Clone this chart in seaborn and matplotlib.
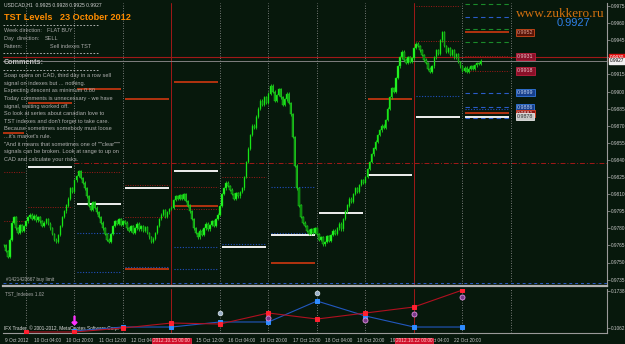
import numpy as np
import matplotlib
matplotlib.use("Agg")
import matplotlib.pyplot as plt
import seaborn as sns

# ---------------- data ----------------
trading_days = ["9 Oct", "10 Oct", "11 Oct", "12 Oct", "15 Oct", "16 Oct",
                "17 Oct", "18 Oct", "19 Oct", "22 Oct", "23 Oct"]
first_hour = 13          # first H1 bar on chart: 9 Oct 13:00
week_start_days = ["15 Oct", "22 Oct"]

close_09 = [0.9765, 0.9760, 0.9755, 0.9770, 0.9785, 0.9790, 0.9780, 0.9776, 0.9783, 0.9778, 0.9782]
close_10 = [0.9786, 0.9790, 0.9792, 0.9788, 0.9791, 0.9787, 0.9790, 0.9786, 0.9782, 0.9785, 0.9788, 0.9784,
            0.9780, 0.9775, 0.9770, 0.9768, 0.9774, 0.9782, 0.9790, 0.9795, 0.9800, 0.9806, 0.9815, 0.9812]
close_11 = [0.9822, 0.9826, 0.9830, 0.9824, 0.9820, 0.9815, 0.9808, 0.9800, 0.9796, 0.9803, 0.9798, 0.9794,
            0.9790, 0.9785, 0.9780, 0.9775, 0.9770, 0.9768, 0.9775, 0.9782, 0.9786, 0.9784, 0.9788, 0.9783]
close_12 = [0.9786, 0.9785, 0.9780, 0.9778, 0.9782, 0.9776, 0.9780, 0.9784, 0.9779, 0.9782, 0.9778, 0.9781,
            0.9776, 0.9772, 0.9768, 0.9771, 0.9776, 0.9782, 0.9788, 0.9792, 0.9796, 0.9790, 0.9794, 0.9797]
close_15 = [0.9798, 0.9805, 0.9808, 0.9806, 0.9809, 0.9806, 0.9810, 0.9804, 0.9800, 0.9795, 0.9788, 0.9780,
            0.9776, 0.9772, 0.9778, 0.9774, 0.9780, 0.9784, 0.9779, 0.9783, 0.9786, 0.9782, 0.9788, 0.9792]
close_16 = [0.9800, 0.9810, 0.9815, 0.9820, 0.9817, 0.9814, 0.9810, 0.9806, 0.9811, 0.9808, 0.9812, 0.9815,
            0.9825, 0.9838, 0.9850, 0.9862, 0.9870, 0.9868, 0.9878, 0.9885, 0.9892, 0.9888, 0.9895, 0.9890]
close_17 = [0.9898, 0.9905, 0.9900, 0.9892, 0.9897, 0.9902, 0.9895, 0.9888, 0.9893, 0.9898, 0.9890, 0.9880,
            0.9860, 0.9835, 0.9815, 0.9800, 0.9790, 0.9785, 0.9782, 0.9778, 0.9775, 0.9779, 0.9776, 0.9780]
close_18 = [0.9775, 0.9770, 0.9772, 0.9766, 0.9768, 0.9773, 0.9769, 0.9774, 0.9778, 0.9775, 0.9780, 0.9784,
            0.9779, 0.9788, 0.9795, 0.9800, 0.9806, 0.9803, 0.9810, 0.9815, 0.9812, 0.9818, 0.9822, 0.9820]
close_19 = [0.9825, 0.9832, 0.9838, 0.9845, 0.9850, 0.9856, 0.9862, 0.9866, 0.9870, 0.9868, 0.9875, 0.9885,
            0.9895, 0.9903, 0.9900, 0.9912, 0.9922, 0.9930, 0.9935, 0.9928, 0.9925, 0.9930, 0.9926, 0.9929]
close_22 = [0.9938, 0.9942, 0.9940, 0.9936, 0.9932, 0.9928, 0.9925, 0.9920, 0.9917, 0.9922, 0.9930, 0.9936,
            0.9933, 0.9945, 0.9952, 0.9940, 0.9935, 0.9938, 0.9932, 0.9936, 0.9930, 0.9933, 0.9926, 0.9922]
close_23 = [0.9918, 0.9921, 0.9917, 0.9920, 0.9922, 0.9920, 0.9923, 0.9925, 0.9924, 0.9927]
closes_by_day = [close_09, close_10, close_11, close_12, close_15, close_16,
                 close_17, close_18, close_19, close_22, close_23]

bid_price = 0.9927
ask_price = 0.9930
pending_order_price = 0.9732
pending_order_text = "#1421420667 buy limit"
long_dashdot_level = ("11 Oct", 0.9837)

# TST levels per day
white_lvls = [("10 Oct", 0.9834), ("11 Oct", 0.9801), ("12 Oct", 0.9815), ("15 Oct", 0.9830),
              ("16 Oct", 0.9764), ("17 Oct", 0.9774), ("18 Oct", 0.9793), ("19 Oct", 0.9827),
              ("22 Oct", 0.9878), ("23 Oct", 0.9878)]
red_solid_lvls = [("9 Oct", 0.9864), ("10 Oct", 0.9890), ("11 Oct", 0.9902), ("12 Oct", 0.9893),
                  ("12 Oct", 0.9744), ("15 Oct", 0.9908), ("15 Oct", 0.9800), ("17 Oct", 0.9750),
                  ("19 Oct", 0.9893), ("23 Oct", 0.9952), ("23 Oct", 0.9881)]
red_dot_lvls = [("9 Oct", 0.9829), ("9 Oct", 0.9786), ("10 Oct", 0.9799), ("11 Oct", 0.9829),
                ("12 Oct", 0.9818), ("12 Oct", 0.9790), ("15 Oct", 0.9816), ("15 Oct", 0.9797),
                ("16 Oct", 0.9825), ("22 Oct", 0.9975), ("22 Oct", 0.9944), ("23 Oct", 0.9931),
                ("23 Oct", 0.9918)]
blue_dot_lvls = [("11 Oct", 0.9776), ("11 Oct", 0.9742), ("12 Oct", 0.9746), ("15 Oct", 0.9764),
                 ("15 Oct", 0.9744), ("16 Oct", 0.9766), ("17 Oct", 0.9816), ("17 Oct", 0.9776),
                 ("22 Oct", 0.9896), ("23 Oct", 0.9885)]
blue_dash_lvls = [("23 Oct", 0.9965), ("23 Oct", 0.9899), ("23 Oct", 0.9886), ("23 Oct", 0.9877)]
green_dash_lvls = [("23 Oct", 0.9977), ("23 Oct", 0.9955), ("23 Oct", 0.9943)]

# TST_Indexes indicator, one value per day start
ind_red_days = ["10 Oct", "11 Oct", "12 Oct", "15 Oct", "16 Oct", "17 Oct", "18 Oct", "19 Oct", "22 Oct", "23 Oct"]
ind_red_vals = [0.0989, 0.0989, 0.1062, 0.1153, 0.1135, 0.1336, 0.1226, 0.1336, 0.1446, 0.1756]
ind_blue_days = ["11 Oct", "12 Oct", "15 Oct", "16 Oct", "17 Oct", "18 Oct", "19 Oct", "22 Oct", "23 Oct"]
ind_blue_vals = [0.1007, 0.1080, 0.1080, 0.1172, 0.1172, 0.1555, 0.1281, 0.1080, 0.1080]
ind_arrow = [("11 Oct", 0.1208)]
ind_circles = [("17 Oct", 0.1245), ("19 Oct", 0.1208), ("22 Oct", 0.1318), ("23 Oct", 0.1628)]
ind_icons = [("16 Oct", 0.1336), ("18 Oct", 0.1701)]
ind_ticks = [0.1738, 0.1062]

main_ticks = [0.9735, 0.9750, 0.9765, 0.9780, 0.9795, 0.9810, 0.9825, 0.9840, 0.9855,
              0.9870, 0.9885, 0.9900, 0.9915, 0.9930, 0.9945, 0.9960, 0.9975]

xlabel_day = ["10 Oct", "10 Oct", "11 Oct", "12 Oct", "12 Oct", "15 Oct", "16 Oct", "16 Oct",
              "17 Oct", "18 Oct", "18 Oct", "19 Oct", "22 Oct", "22 Oct"]
xlabel_hour = [4, 20, 12, 4, 20, 12, 4, 20, 12, 4, 20, 12, 4, 20]
first_label = "9 Oct 2012"
week_marker_text = ["2012.10.15 00:00", "2012.10.22 00:00"]

header = "USDCAD,H1  0.9925 0.9928 0.9925 0.9927"
title = "TST Levels   23 October 2012"
info_keys = ["Week direction:", "Day  direction:", "Pattern:"]
info_vals = ["FLAT BUY", "SELL", "Sell indexes TST"]
comments = ["Soap opera on CAD, third day in a row sell",
            "signal on indexes but ... nothing.",
            "Expecting descent as minimum 0.80",
            "Today comments is unnecessary - we have",
            "signal, waiting worked off.",
            "So look at series about canadian love to",
            "TST indexes and don't forget to take care.",
            "Because sometimes somebody must loose",
            "...it's market's rule.",
            "\"And it means that sometimes one of \"\"clear\"\"\"",
            "signals can be broken. Look at range to up on",
            "CAD and calculate your risks."]

# ---------------- derived positions ----------------
day_start = {d: i * 24 - first_hour for i, d in enumerate(trading_days)}
closes = np.array([c for day in closes_by_day for c in day])
pos = np.arange(len(closes))
opens = np.r_[closes[0], closes[:-1]]

# ---------------- style ----------------
BG = "#07180c"
sns.set_style("dark", {"axes.facecolor": BG, "figure.facecolor": BG})
plt.rcParams["font.family"] = ["Liberation Sans", "DejaVu Sans"]
TXT = "#c8c8c8"
SMALL = 3.4

W, H = 625, 344
fig = plt.figure(figsize=(W / 100, H / 100), dpi=100)
fig.patch.set_facecolor(BG)

def fx(px):
    return px / W

def fy(py):
    return 1 - py / H

ax = fig.add_axes([fx(3), fy(286), fx(607) - fx(3), fy(3) - fy(286)])
axi = fig.add_axes([fx(3), fy(333), fx(607) - fx(3), fy(289) - fy(333)])

PX = 48.5 / 24.0
x_left = day_start["10 Oct"] - (26 - 3) / PX
x_right = day_start["10 Oct"] + (607 - 26) / PX
price_per_px = 0.0015 / 17.1
y_top = 0.9975 + 3 * price_per_px
y_bot = 0.9975 - 280 * price_per_px

for a in (ax, axi):
    a.set_facecolor(BG)
    a.set_xlim(x_left, x_right)
    for s in a.spines.values():
        s.set_color("#9a9a9a")
        s.set_linewidth(0.8)
    a.spines["left"].set_visible(False)
    a.spines["top"].set_visible(False)
    a.grid(False)
    for d in trading_days[1:] + ["24 Oct"]:
        xs = day_start[d] if d in day_start else day_start["23 Oct"] + 24
        if d in week_start_days:
            a.axvline(xs, color="#a01818", lw=0.7, zorder=1)
        else:
            a.axvline(xs, color="#9a9a9a", lw=0.6, ls=(0, (1, 2)), zorder=1)

ax.set_ylim(y_bot, y_top)
ax.spines["bottom"].set_color("#b0b0b0")
ax.spines["bottom"].set_linewidth(1.6)

def draw_lvls(lvls, color, ls, lw):
    for d, v in lvls:
        s = day_start[d]
        ax.hlines(v, s + 1.2, s + 23.0, colors=color, linestyles=ls, lw=lw, zorder=2)

draw_lvls(red_dot_lvls, "#a01818", (0, (1, 1.5)), 0.7)
draw_lvls(blue_dot_lvls, "#2050c0", (0, (1, 1.5)), 0.8)
draw_lvls(blue_dash_lvls, "#2a5cc8", (0, (4, 3)), 0.8)
draw_lvls(green_dash_lvls, "#1a8a2a", (0, (4, 3)), 0.8)
draw_lvls(red_solid_lvls, "#e03a10", "-", 1.1)
draw_lvls(white_lvls, "#f0f0f0", "-", 1.4)

ax.hlines(long_dashdot_level[1], day_start[long_dashdot_level[0]], x_right,
          colors="#a01818", linestyles=(0, (5, 2, 1, 2)), lw=0.7, zorder=2)
ax.axhline(ask_price, color="#a01818", lw=0.8, zorder=2)
ax.axhline(bid_price, color="#808080", lw=0.7, zorder=2)
ax.axhline(pending_order_price, color="#2a5cc8", lw=0.7, ls=(0, (3, 3)), zorder=2)
ax.text(1, pending_order_price + 4 * price_per_px, pending_order_text, color="#b0b0b0",
        fontsize=SMALL, va="center", ha="left")

# candles
wick = 1.3 * price_per_px
lo = np.minimum(opens, closes)
hi = np.maximum(opens, closes)
bull = closes >= opens
ax.vlines(pos, lo - wick, hi + wick, colors="#1fd01f", lw=0.6, zorder=3)
body = np.maximum(hi - lo, 0.4 * price_per_px)
ax.bar(pos[bull], body[bull], bottom=lo[bull], width=0.7, color="#2cff2c",
       edgecolor="#00c000", lw=0.3, zorder=4)
ax.bar(pos[~bull], body[~bull], bottom=lo[~bull], width=0.7, color="#0a7a0a",
       edgecolor="#22e022", lw=0.3, zorder=4)

# right axis
ax.yaxis.tick_right()
ax.set_yticks(main_ticks)
ax.set_yticklabels([f"{t:.4f}" for t in main_ticks])
ax.tick_params(axis="y", colors="#a0a0a0", labelcolor=TXT, labelsize=SMALL, length=2, pad=1.0, width=0.5)
ax.set_xticks([])

ax.text(1.005, ask_price, f"{ask_price:.4f}", transform=ax.get_yaxis_transform(), fontsize=SMALL,
        color="white", va="center", ha="left", zorder=10,
        bbox=dict(boxstyle="square,pad=0.15", fc="#e01010", ec="#e01010"))
ax.text(1.005, bid_price, f"{bid_price:.4f}", transform=ax.get_yaxis_transform(), fontsize=SMALL,
        color="black", va="center", ha="left", zorder=11,
        bbox=dict(boxstyle="square,pad=0.15", fc="#f0f0f0", ec="#f0f0f0"))

label_x = day_start["23 Oct"] + 27
def lvl_labels(lvls, fc, ec, tc):
    for d, v in lvls:
        if d == "23 Oct":
            ax.text(label_x, v, f"{v:.4f}", fontsize=3.8, color=tc, va="center", ha="left", zorder=9,
                    bbox=dict(boxstyle="square,pad=0.2", fc=fc, ec=ec, lw=0.6))
lvl_labels([l for l in red_solid_lvls if l[1] > 0.99], "#5a1408", "#d04a1a", "#e0a090")
lvl_labels(red_dot_lvls, "#8a1028", "#c02040", "#e8c0c8")
lvl_labels(blue_dash_lvls[1:3], "#173f8c", "#3478e0", "#c0d4f4")
lvl_labels([l for l in red_solid_lvls if l[0] == "23 Oct" and l[1] < 0.99], "#8a1818", "#e04020", "#f0d0d0")
lvl_labels(white_lvls, "#c8c8c8", "#e8e8e8", "#303030")

fig.text(fx(4), fy(5), header, color="#d0d0d0", fontsize=3.6, va="center")
fig.text(fx(4), fy(17), title, color="#ff8c00", fontsize=6.6, fontweight="bold", va="center")
for yy in (25, 53, 70):
    fig.add_artist(plt.Line2D([fx(3), fx(98)], [fy(yy), fy(yy)], color="#c8c8c8", lw=0.6, ls=(0, (2, 2))))
for i, (k, v) in enumerate(zip(info_keys, info_vals)):
    yy = 31 + i * 7.5
    fig.text(fx(4), fy(yy), k, color="#a8a8a8", fontsize=4.0, va="center")
    fig.text(fx(47 if i == 0 else (45 if i == 1 else 50)), fy(yy), v, color="#a8a8a8", fontsize=4.0, va="center")
fig.text(fx(4), fy(62), "Comments:", color="#c0c0c0", fontsize=5.2, fontweight="bold", va="center")
for i, line in enumerate(comments):
    fig.text(fx(4), fy(75.7 + i * 7.6), line, color="#b0b0b0", fontsize=4.1, va="center")

fig.text(fx(605), fy(14), "www.zukkero.ru", color="#d2700f", fontsize=9.5, ha="right", va="center",
         family=["Liberation Serif", "DejaVu Serif"])
fig.text(fx(590), fy(23), f"{bid_price:.4f}", color="#2f80e8", fontsize=8, ha="right", va="center")

# ---------------- indicator ----------------
axi.set_ylim(0.1738 - 42 * 0.001827, 0.1738 + 2 * 0.001827)
rx = [day_start[d] for d in ind_red_days]
bx = [day_start[d] for d in ind_blue_days]
sns.lineplot(x=bx, y=ind_blue_vals, ax=axi, color="#2258c0", lw=0.8, marker="s", markersize=2.6,
             markerfacecolor="#2f8cff", markeredgecolor="#2f8cff", zorder=4)
sns.lineplot(x=rx, y=ind_red_vals, ax=axi, color="#b01020", lw=0.8, marker="s", markersize=2.6,
             markerfacecolor="#ff2030", markeredgecolor="#ff2030", zorder=5)
for d, v in ind_arrow:
    axi.plot(day_start[d], v, marker=r"$\downarrow$", color="#ff30ff", markersize=6, zorder=6)
for d, v in ind_circles:
    axi.plot(day_start[d], v, marker="o", markersize=3.6, markerfacecolor="#7a3a8a",
             markeredgecolor="#e090e0", markeredgewidth=0.6, zorder=6)
for d, v in ind_icons:
    axi.plot(day_start[d], v, marker="o", markersize=3.4, markerfacecolor="#9ab0c8",
             markeredgecolor="#dfe8f0", markeredgewidth=0.5, zorder=6)

axi.yaxis.tick_right()
axi.set_yticks(ind_ticks)
axi.set_yticklabels([f"{t:.4f}" for t in ind_ticks])
axi.tick_params(axis="y", colors="#a0a0a0", labelcolor=TXT, labelsize=SMALL, length=2, pad=1.0, width=0.5)
axi.text(0.004, 0.9, "TST_Indexes 1.02", transform=axi.transAxes, color="#a8a8a8", fontsize=SMALL, va="center")
axi.text(0.002, 0.12, "IFX Trader, \u00a9 2001-2012, MetaQuotes Software Corp.", transform=axi.transAxes,
         color="#e0e0e0", fontsize=SMALL, va="center")

xt = [day_start[d] + h for d, h in zip(xlabel_day, xlabel_hour)]
axi.set_xticks(xt)
axi.set_xticklabels([f"{d} {h:02d}:00" for d, h in zip(xlabel_day, xlabel_hour)], ha="left")
axi.tick_params(axis="x", colors="#606060", labelcolor=TXT, labelsize=SMALL, length=2, pad=1.5, width=0.5)
axi.text(0.5, -0.12, first_label, transform=axi.get_xaxis_transform(), color=TXT, fontsize=SMALL,
         ha="left", va="top")
for d, t in zip(week_start_days, week_marker_text):
    axi.text(day_start[d], -0.12, t, transform=axi.get_xaxis_transform(), color="#ffd0d0", fontsize=SMALL,
             ha="center", va="top", zorder=10,
             bbox=dict(boxstyle="square,pad=0.15", fc="#d0102a", ec="#ff3050", lw=0.5))

fig.savefig("out.png", dpi=100, facecolor=BG)
